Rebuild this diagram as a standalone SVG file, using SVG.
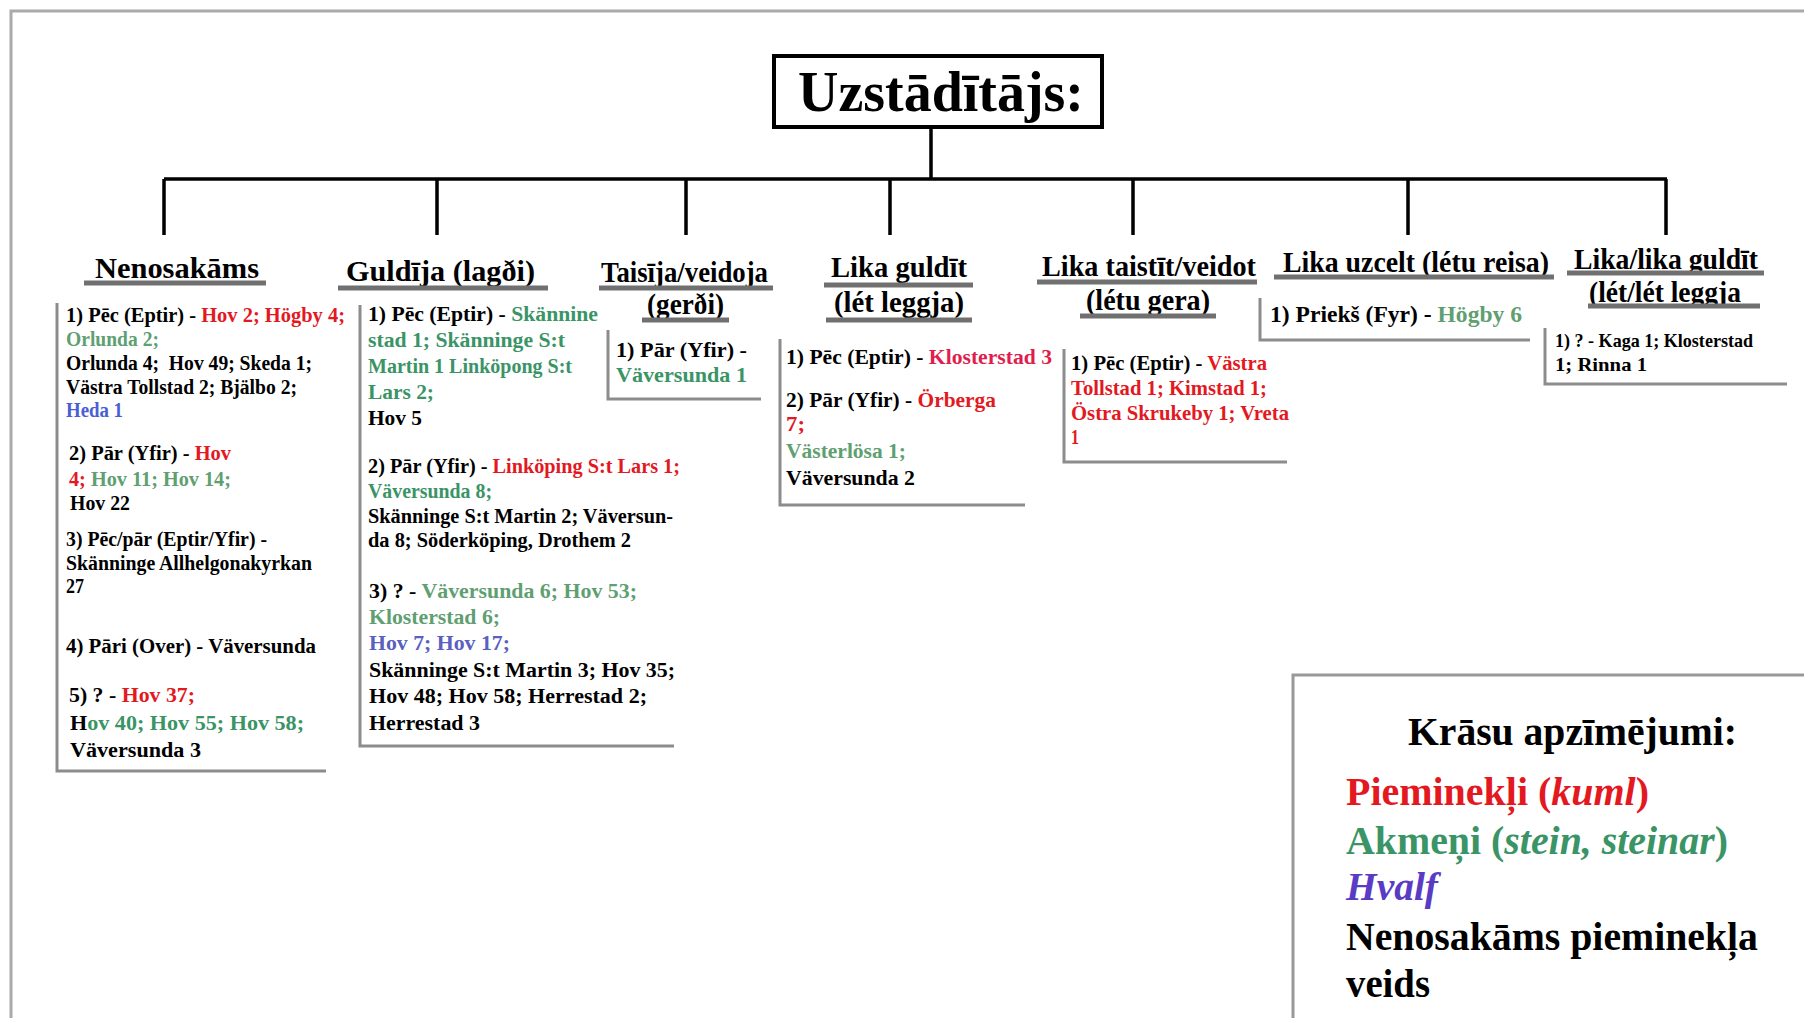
<svg xmlns="http://www.w3.org/2000/svg" width="1804" height="1018" viewBox="0 0 1804 1018">
<style>
text{font-family:"Liberation Serif","Times New Roman",serif;font-weight:bold;fill:#000}
.h{font-size:30px}
.c1{font-size:20px}
.c2{font-size:20.5px}
.c3{font-size:21px}
.c5{font-size:21px}
.c6{font-size:23px}
.c7{font-size:19.5px}
.lg{font-size:40px}
.ul{stroke:#707070;stroke-width:5}
.bx{fill:none;stroke:#8c8c8c;stroke-width:3}
.conn{stroke:#000;stroke-width:3.5;fill:none}
.r{fill:#e3191f}
.cr{fill:#e01e4e}
.g{fill:#3a9466}
.lgn{fill:#5f9f72}
.b{fill:#4a5ed4}
.p{fill:#5b5fbf}
.pu{fill:#5a3cc4}
.i{font-style:italic}
</style>
<rect width="1804" height="1018" fill="#fff"/>
<path d="M11 1018 V11 H1804" fill="none" stroke="#aaaaaa" stroke-width="3"/>

<g id="connectors">
<path class="conn" d="M931 128 V179"/>
<path class="conn" stroke-width="4" d="M164 179 H1667"/>
<path class="conn" d="M164 179 V235 M437 179 V235 M686 179 V235 M890 179 V235 M1133 179 V235 M1408 179 V235 M1666 179 V235"/>
</g>

<g id="title">
<rect x="774" y="56" width="328" height="71" fill="#fff" stroke="#000" stroke-width="4"/>
<text x="798" y="111" font-size="58" textLength="286" lengthAdjust="spacingAndGlyphs">Uzstādītājs:</text>
</g>

<g id="nenosakams">
<text class="h" x="95" y="278" textLength="164" lengthAdjust="spacingAndGlyphs">Nenosakāms</text>
<line class="ul" x1="84" y1="283" x2="266" y2="283"/>
<path class="bx" d="M57 303 V771 H326"/>
<text class="c1" x="66" y="322" textLength="279" lengthAdjust="spacingAndGlyphs">1) Pēc (Eptir) - <tspan class="r">Hov 2; Högby 4;</tspan></text>
<text class="c1 lgn" x="66" y="346" textLength="93" lengthAdjust="spacingAndGlyphs">Orlunda 2;</text>
<text class="c1" x="66" y="369.5" textLength="246" lengthAdjust="spacingAndGlyphs" xml:space="preserve">Orlunda 4;  Hov 49; Skeda 1;</text>
<text class="c1" x="66" y="393.5" textLength="231" lengthAdjust="spacingAndGlyphs">Västra Tollstad 2; Bjälbo 2;</text>
<text class="c1 b" x="66" y="416.5" textLength="57" lengthAdjust="spacingAndGlyphs">Heda 1</text>
<text class="c1" x="69" y="460" textLength="162" lengthAdjust="spacingAndGlyphs">2) Pār (Yfir) - <tspan class="r">Hov</tspan></text>
<text class="c1" x="69" y="485.5" textLength="162" lengthAdjust="spacingAndGlyphs"><tspan class="r">4;</tspan><tspan class="lgn"> Hov 11; Hov 14;</tspan></text>
<text class="c1" x="70" y="510" textLength="60" lengthAdjust="spacingAndGlyphs">Hov 22</text>
<text class="c1" x="66" y="545.5" textLength="201" lengthAdjust="spacingAndGlyphs">3) Pēc/pār (Eptir/Yfir) -</text>
<text class="c1" x="66" y="569.5" textLength="246" lengthAdjust="spacingAndGlyphs">Skänninge Allhelgonakyrkan</text>
<text class="c1" x="66" y="593" textLength="18" lengthAdjust="spacingAndGlyphs">27</text>
<text class="c1" x="66" y="652.5" textLength="250" lengthAdjust="spacingAndGlyphs">4) Pāri (Over) - Väversunda</text>
<text class="c1" x="69" y="702" textLength="126" lengthAdjust="spacingAndGlyphs">5) ? - <tspan class="r">Hov 37;</tspan></text>
<text class="c1" x="70" y="730" textLength="234" lengthAdjust="spacingAndGlyphs">H<tspan class="g">ov 40; Hov 55; Hov 58;</tspan></text>
<text class="c1" x="70" y="757" textLength="131" lengthAdjust="spacingAndGlyphs">Väversunda 3</text>
</g>

<g id="guldija">
<text class="h" x="346" y="281" textLength="189" lengthAdjust="spacingAndGlyphs">Guldīja (lagði)</text>
<line class="ul" x1="338" y1="288" x2="548" y2="288"/>
<path class="bx" d="M360 305 V746 H674"/>
<text class="c2" x="368" y="321" textLength="230" lengthAdjust="spacingAndGlyphs">1) Pēc (Eptir) - <tspan class="g">Skännine</tspan></text>
<text class="c2 g" x="368" y="346.5" textLength="197" lengthAdjust="spacingAndGlyphs">stad 1; Skänninge S:t</text>
<text class="c2 g" x="368" y="373" textLength="204" lengthAdjust="spacingAndGlyphs">Martin 1 Linköpong S:t</text>
<text class="c2 g" x="368" y="399" textLength="66" lengthAdjust="spacingAndGlyphs">Lars 2;</text>
<text class="c2" x="368" y="424.5" textLength="54" lengthAdjust="spacingAndGlyphs">Hov 5</text>
<text class="c2" x="368" y="473" textLength="312" lengthAdjust="spacingAndGlyphs">2) Pār (Yfir) - <tspan class="r">Linköping S:t Lars 1;</tspan></text>
<text class="c2 g" x="368" y="498" textLength="124" lengthAdjust="spacingAndGlyphs">Väversunda 8;</text>
<text class="c2" x="368" y="522.5" textLength="305" lengthAdjust="spacingAndGlyphs">Skänninge S:t Martin 2; Väversun-</text>
<text class="c2" x="368" y="546.5" textLength="263" lengthAdjust="spacingAndGlyphs">da 8; Söderköping, Drothem 2</text>
<text class="c2" x="369" y="598" textLength="268" lengthAdjust="spacingAndGlyphs">3) ? - <tspan class="lgn">Väversunda 6; Hov 53;</tspan></text>
<text class="c2 lgn" x="369" y="624" textLength="131" lengthAdjust="spacingAndGlyphs">Klosterstad 6;</text>
<text class="c2 p" x="369" y="650" textLength="141" lengthAdjust="spacingAndGlyphs">Hov 7; Hov 17;</text>
<text class="c2" x="369" y="676.5" textLength="306" lengthAdjust="spacingAndGlyphs">Skänninge S:t Martin 3; Hov 35;</text>
<text class="c2" x="369" y="703" textLength="278" lengthAdjust="spacingAndGlyphs">Hov 48; Hov 58; Herrestad 2;</text>
<text class="c2" x="369" y="729.5" textLength="111" lengthAdjust="spacingAndGlyphs">Herrestad 3</text>
</g>

<g id="taisija">
<text class="h" x="601" y="282" textLength="167" lengthAdjust="spacingAndGlyphs">Taisīja/veidoja</text>
<line class="ul" x1="599" y1="288" x2="773" y2="288"/>
<text class="h" x="647" y="314" textLength="77" lengthAdjust="spacingAndGlyphs">(gerði)</text>
<line class="ul" x1="642" y1="320" x2="729" y2="320"/>
<path class="bx" d="M608 330 V399 H761"/>
<text class="c3" x="616" y="357" textLength="131" lengthAdjust="spacingAndGlyphs">1) Pār (Yfir) -</text>
<text class="c3 g" x="616" y="382" textLength="131" lengthAdjust="spacingAndGlyphs">Väversunda 1</text>
</g>

<g id="lika-guldit">
<text class="h" x="831" y="277" textLength="136" lengthAdjust="spacingAndGlyphs">Lika guldīt</text>
<line class="ul" x1="824" y1="285" x2="973" y2="285"/>
<text class="h" x="834" y="312" textLength="130" lengthAdjust="spacingAndGlyphs">(lét leggja)</text>
<line class="ul" x1="826" y1="320" x2="972" y2="320"/>
<path class="bx" d="M780 339 V505 H1025"/>
<text class="c3" x="786" y="364" textLength="266" lengthAdjust="spacingAndGlyphs">1) Pēc (Eptir) - <tspan class="cr">Klosterstad 3</tspan></text>
<text class="c3" x="786" y="407" textLength="210" lengthAdjust="spacingAndGlyphs">2) Pār (Yfir) - <tspan class="r">Örberga</tspan></text>
<text class="c3 r" x="786" y="431" textLength="19" lengthAdjust="spacingAndGlyphs">7;</text>
<text class="c3 lgn" x="786" y="458" textLength="120" lengthAdjust="spacingAndGlyphs">Västerlösa 1;</text>
<text class="c3" x="786" y="485" textLength="129" lengthAdjust="spacingAndGlyphs">Väversunda 2</text>
</g>

<g id="lika-taistit">
<text class="h" x="1042" y="276" textLength="214" lengthAdjust="spacingAndGlyphs">Lika taistīt/veidot</text>
<line class="ul" x1="1037" y1="282" x2="1257" y2="282"/>
<text class="h" x="1086" y="310" textLength="124" lengthAdjust="spacingAndGlyphs">(létu gera)</text>
<line class="ul" x1="1080" y1="316" x2="1216" y2="316"/>
<path class="bx" d="M1064 349 V462 H1287"/>
<text class="c5" x="1071" y="369.5" textLength="196" lengthAdjust="spacingAndGlyphs">1) Pēc (Eptir) - <tspan class="r">Västra</tspan></text>
<text class="c5 r" x="1071" y="395" textLength="196" lengthAdjust="spacingAndGlyphs">Tollstad 1; Kimstad 1;</text>
<text class="c5 r" x="1071" y="420" textLength="218" lengthAdjust="spacingAndGlyphs">Östra Skrukeby 1; Vreta</text>
<text class="c5 r" x="1071" y="444" textLength="8" lengthAdjust="spacingAndGlyphs">1</text>
</g>

<g id="lika-uzcelt">
<text class="h" x="1283" y="272" textLength="266" lengthAdjust="spacingAndGlyphs">Lika uzcelt (létu reisa)</text>
<line class="ul" x1="1274" y1="277" x2="1554" y2="277"/>
<path class="bx" d="M1260 298 V340 H1530"/>
<text class="c6" x="1270" y="322" textLength="252" lengthAdjust="spacingAndGlyphs">1) Priekš (Fyr) - <tspan class="lgn">Högby 6</tspan></text>
</g>

<g id="lika-lika-guldit">
<text class="h" x="1574" y="269" textLength="184" lengthAdjust="spacingAndGlyphs">Lika/lika guldīt</text>
<line class="ul" x1="1567" y1="273" x2="1764" y2="273"/>
<text class="h" x="1589" y="302" textLength="152" lengthAdjust="spacingAndGlyphs">(lét/lét leggja</text>
<line class="ul" x1="1588" y1="306" x2="1760" y2="306"/>
<path class="bx" d="M1545 328 V384 H1787"/>
<text class="c7" x="1555" y="346.5" textLength="198" lengthAdjust="spacingAndGlyphs">1) ? - Kaga 1; Klosterstad</text>
<text class="c7" x="1555" y="370.5" textLength="92" lengthAdjust="spacingAndGlyphs">1; Rinna 1</text>
</g>

<g id="legend">
<path d="M1293 1018 V675 H1804" fill="none" stroke="#999" stroke-width="3"/>
<text class="lg" x="1408" y="745" textLength="329" lengthAdjust="spacingAndGlyphs">Krāsu apzīmējumi:</text>
<text class="lg r" x="1346" y="805" textLength="303" lengthAdjust="spacingAndGlyphs">Pieminekļi (<tspan class="i">kuml</tspan>)</text>
<text class="lg g" x="1346" y="854" textLength="382" lengthAdjust="spacingAndGlyphs">Akmeņi (<tspan class="i">stein, steinar</tspan>)</text>
<text class="lg pu i" x="1346" y="900" textLength="92" lengthAdjust="spacingAndGlyphs">Hvalf</text>
<text class="lg" x="1346" y="950" textLength="412" lengthAdjust="spacingAndGlyphs">Nenosakāms pieminekļa</text>
<text class="lg" x="1346" y="997" textLength="84" lengthAdjust="spacingAndGlyphs">veids</text>
</g>
</svg>
